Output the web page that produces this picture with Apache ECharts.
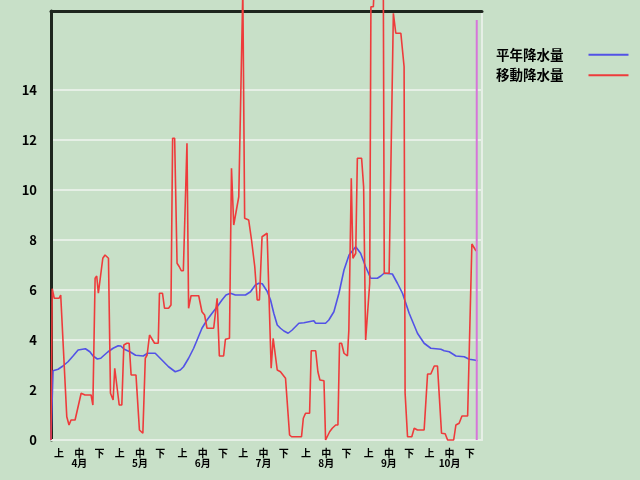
<!DOCTYPE html>
<html><head><meta charset="utf-8">
<script src="https://cdn.jsdelivr.net/npm/echarts@6/dist/echarts.min.js"></script>
<style>html,body{margin:0;padding:0;background:#c8e0c8}#c{width:640px;height:480px}</style>
</head><body><div id="c"></div>
<script>
const months = ['4月','5月','6月','7月','8月','9月','10月'];
const monthNums = [4,5,6,7,8,9,10];
const monthDays = [30,31,30,31,31,30,31];
const dekadNames = ['上','中','下'];
const dekadLabelDays = [5,15,25];
const yTickLabels = [0,2,4,6,8,10,12,14];
const seriesNames = ['平年降水量','移動降水量'];

// 平年降水量 (day index from Apr 1, value)
const normalDays = [0,1.0,3.5,5.9,8.4,10.9,13.4,14.2,17.0,19.2,20.8,22.9,24.6,25.8,28.2,30.7,33.2,34.5,36.2,39.0,41.8,45.6,47.7,51.5,54.8,58.1,61.4,62.3,63.9,65.5,68.0,70.5,72.2,74.6,77.1,79.6,82.1,84.5,86.5,88.7,91.1,96.1,98.6,101.0,102.7,104.4,106.8,108.5,110.1,111.8,113.4,115.1,117.2,119.2,122.5,125.0,125.8,129.9,130.8,135.7,137.3,139.8,142.3,144.8,147.3,150.6,153.0,155.5,158.0,161.3,163.0,164.6,168.7,171.2,173.7,177.0,181.1,184.4,187.7,192.7,194.3,196.8,200.1,204.2,206.7,209.2,210.8];
const normalValues = [0,2.77,2.83,2.96,3.13,3.36,3.6,3.65,3.65,3.53,3.36,3.24,3.27,3.36,3.53,3.67,3.77,3.76,3.63,3.53,3.39,3.36,3.47,3.47,3.2,2.93,2.73,2.67,2.8,2.93,3.27,3.67,4.0,4.47,4.8,5.07,5.33,5.6,5.8,5.87,5.8,5.8,5.93,6.2,6.27,6.25,5.95,5.6,5.07,4.6,4.47,4.36,4.27,4.4,4.67,4.69,4.77,4.77,4.67,4.67,4.8,5.13,5.87,6.8,7.4,7.73,7.47,6.93,6.47,6.47,6.56,6.67,6.64,6.27,5.87,5.07,4.27,3.87,3.67,3.63,3.57,3.53,3.36,3.33,3.23,3.2,3.17];

// 移動降水量
const movingDays = [0,0.6,1.6,4.0,4.8,7.8,8.9,9.9,11.9,14.9,16.8,19.8,20.7,21.8,22.6,23.4,25.6,26.7,28.4,29.4,30.7,31.5,33.7,35.0,36.0,37.5,38.6,39.6,42.0,42.6,43.7,45.4,46.6,47.5,48.7,49.5,51.2,53.0,53.6,55.1,56.1,58.1,59.3,60.1,61.1,62.3,63.4,64.4,65.4,67.2,68.0,69.2,73.0,74.6,75.9,77.1,80.4,82.1,83.2,85.3,86.2,88.2,89.2,90.3,91.1,92.8,94.8,95.7,97.7,99.1,100.7,101.9,103.0,104.3,106.8,108.8,109.8,111.8,113.4,115.9,117.9,118.9,123.8,124.7,125.8,127.8,128.6,130.8,131.9,132.9,134.9,135.7,136.5,137.7,139.0,140.7,141.8,142.6,143.6,144.8,146.5,147.2,148.4,149.2,150.6,151.4,153.5,154.5,155.5,156.4,157.5,158.1,159.3,160.2,164.2,164.7,167.1,169.2,170.4,172.9,173.7,174.5,175.0,176.2,178.3,179.5,181.1,184.4,186.1,187.7,189.4,191.0,193.0,194.8,196.0,199.0,200.1,201.7,203.1,205.9,208.0,208.9,210.0,210.5];
const movingValues = [0,6.05,5.67,5.67,5.8,0.93,0.6,0.8,0.8,1.87,1.8,1.8,1.4,6.47,6.56,5.87,7.27,7.4,7.27,1.87,1.6,2.87,1.4,1.4,3.8,3.87,3.87,2.6,2.6,2.65,0.4,0.27,3.27,3.4,4.2,4.13,3.87,3.87,5.87,5.87,5.27,5.27,5.4,12.07,12.07,7.07,6.93,6.77,6.77,11.87,5.27,5.77,5.77,5.13,5.0,4.47,4.47,5.67,3.36,3.36,4.03,4.07,10.87,8.6,8.6,9.73,18.0,8.87,8.8,8.0,6.93,5.6,5.6,8.13,8.27,2.87,4.07,2.8,2.73,2.47,0.2,0.13,0.13,0.87,1.07,1.07,3.57,3.57,2.73,2.4,2.37,0,0,0.33,0.47,0.6,0.6,3.87,3.87,3.47,3.36,4.4,10.47,7.27,7.47,11.27,11.27,10.13,4.0,4.07,6.27,17.33,17.33,19,19,6.67,6.67,17.07,16.27,16.27,16.33,14.93,1.87,0.13,0.13,0.47,0.4,0.4,2.64,2.64,2.96,2.96,0.27,0.25,0,0,0.6,0.67,0.96,0.96,7.84,7.84,7.57,7.6];

const todayDay = 210.4;
const todayTop = 16.8;
const yMax = 17.16;

const categories = [];
const labelMap = {};
months.forEach((m, mi) => {
  for (let d = 1; d <= monthDays[mi]; d++) {
    const key = monthNums[mi] + '/' + d;
    categories.push(key);
    const k = dekadLabelDays.indexOf(d);
    if (k >= 0) labelMap[key] = k === 1 ? dekadNames[k] + '\n' + m : dekadNames[k];
  }
});

const zip = (a, b) => a.map((x, i) => [x, b[i]]);
const FONT = '"Noto Sans CJK JP", "Noto Sans", sans-serif';
const LIGHT = '#e6efe6';
const DARK = '#1e261e';
const BLUE = '#5252e6';
const RED = '#ee3b3b';
const gridColors = yTickLabels.map(() => LIGHT).concat(['rgba(0,0,0,0)', 'rgba(0,0,0,0)', 'rgba(0,0,0,0)']);

const chart = echarts.init(document.getElementById('c'), null, {renderer: 'canvas'});
chart.setOption({
  backgroundColor: '#c8e0c8',
  animation: false,
  textStyle: {fontFamily: FONT},
  grid: {left: 51, right: 158, top: 11, bottom: 40, containLabel: false},
  legend: {
    orient: 'vertical', left: 496, top: 48, align: 'right', padding: 0,
    icon: 'rect', itemWidth: 40, itemHeight: 2, itemGap: 7,
    data: seriesNames,
    textStyle: {fontSize: 13.5, fontWeight: 'bold', color: '#000', fontFamily: FONT, padding: [0, 20, 0, 0]}
  },
  xAxis: [
    {
      type: 'category', data: categories, boundaryGap: false, position: 'bottom',
      axisLine: {show: true, onZero: false, lineStyle: {color: LIGHT, width: 2}},
      axisTick: {show: false},
      axisLabel: {
        interval: (i, v) => labelMap[v] !== undefined,
        formatter: v => labelMap[v] || '',
        margin: 8, fontSize: 10, lineHeight: 10, fontWeight: 'bold', color: '#000', fontFamily: FONT
      },
      splitLine: {show: false}
    },
    {
      type: 'value', min: 0, max: categories.length - 1, position: 'top',
      axisLine: {show: true, onZero: false, lineStyle: {color: DARK, width: 3}},
      axisLabel: {show: false}, axisTick: {show: false}, splitLine: {show: false}
    }
  ],
  yAxis: [
    {
      type: 'value', min: 0, max: yMax, interval: 2, position: 'left',
      axisLine: {show: true, onZero: false, lineStyle: {color: DARK, width: 3}},
      axisTick: {show: false},
      axisLabel: {
        margin: 14, color: '#000', fontSize: 13, fontWeight: 'bold', fontFamily: FONT,
        formatter: v => yTickLabels.indexOf(v) >= 0 ? String(v) : ''
      },
      splitLine: {show: true, lineStyle: {color: gridColors, width: 2}}
    },
    {
      type: 'value', min: 0, max: yMax, interval: 2, position: 'right',
      axisLine: {show: true, onZero: false, lineStyle: {color: LIGHT, width: 2}},
      axisLabel: {show: false}, axisTick: {show: false}, splitLine: {show: false}
    }
  ],
  series: [
    {
      name: seriesNames[0], type: 'line', xAxisIndex: 1, yAxisIndex: 0,
      data: zip(normalDays, normalValues), symbol: 'none', clip: false,
      lineStyle: {color: BLUE, width: 1.6}, itemStyle: {color: BLUE}
    },
    {
      name: seriesNames[1], type: 'line', xAxisIndex: 1, yAxisIndex: 0,
      data: zip(movingDays, movingValues), symbol: 'none', clip: false,
      lineStyle: {color: RED, width: 1.6}, itemStyle: {color: RED}
    },
    {
      name: 'today', type: 'line', xAxisIndex: 1, yAxisIndex: 0,
      data: [[todayDay, 0], [todayDay, todayTop]], symbol: 'none', clip: false,
      lineStyle: {color: '#d675d9', width: 2}, silent: true
    }
  ]
});
</script></body></html>
